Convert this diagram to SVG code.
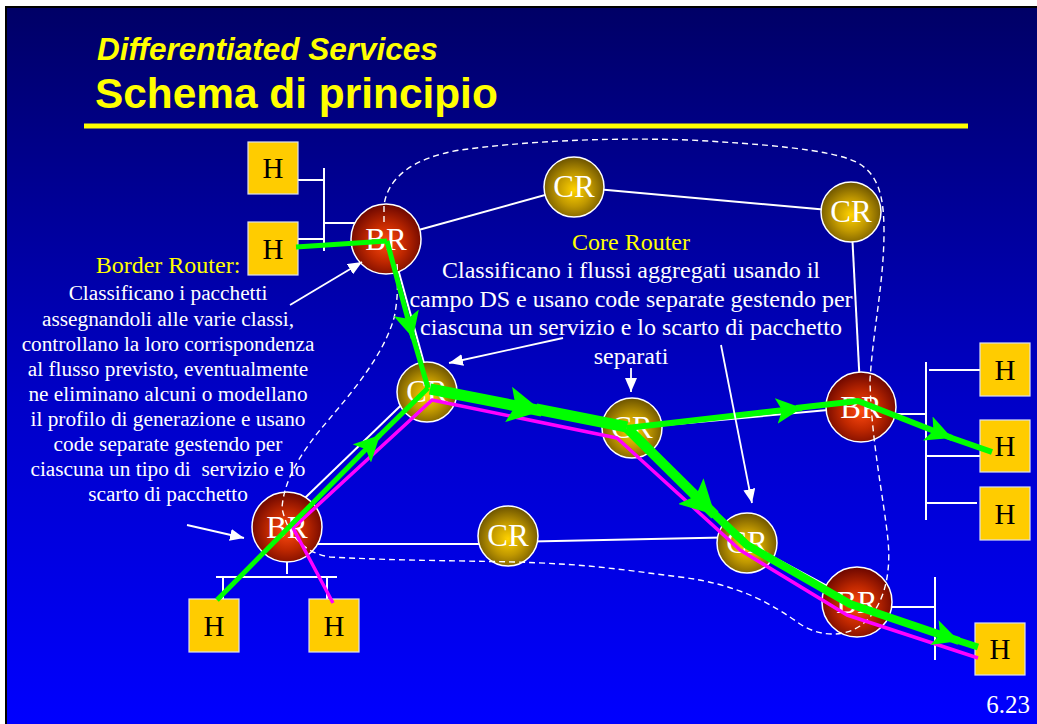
<svg xmlns="http://www.w3.org/2000/svg" width="1037" height="724" viewBox="0 0 1037 724">
<defs>
<linearGradient id="bg" x1="0" y1="0" x2="0" y2="1">
<stop offset="0" stop-color="#000066"/>
<stop offset="0.55" stop-color="#0000c8"/>
<stop offset="1" stop-color="#0000ff"/>
</linearGradient>
<radialGradient id="brg" cx="0.5" cy="0.55" r="0.55">
<stop offset="0" stop-color="#ff4a10"/>
<stop offset="0.5" stop-color="#c02800"/>
<stop offset="1" stop-color="#6a0600"/>
</radialGradient>
<radialGradient id="crg" cx="0.5" cy="0.55" r="0.55">
<stop offset="0" stop-color="#ffd200"/>
<stop offset="0.5" stop-color="#c09800"/>
<stop offset="1" stop-color="#6a5200"/>
</radialGradient>
<marker id="wa" markerUnits="userSpaceOnUse" markerWidth="14" markerHeight="12" refX="14" refY="6" orient="auto">
<path d="M0,0 L14,6 L0,12 z" fill="#ffffff"/>
</marker>
<marker id="ga" markerUnits="userSpaceOnUse" markerWidth="26" markerHeight="26" refX="26" refY="13" orient="auto">
<path d="M0,0 L26,13 L0,26 L6,13 z" fill="#00ff00"/>
</marker>
<marker id="gab" markerUnits="userSpaceOnUse" markerWidth="34" markerHeight="36" refX="34" refY="18" orient="auto">
<path d="M0,0 L34,18 L0,36 L7,18 z" fill="#00ff00"/>
</marker>
<style>
.lk{stroke:#ffffff;stroke-width:2;fill:none}
.gr{stroke:#00ff00;fill:none;stroke-linejoin:round}
.mg{stroke:#ff00ff;stroke-width:3.5;fill:none;stroke-linejoin:round}
.ds{stroke:#ffffff;stroke-width:1.4;fill:none;stroke-dasharray:6 4}
.an{stroke:#ffffff;stroke-width:1.8;fill:none;marker-end:url(#wa)}
.br{fill:url(#brg);stroke:#ffffff;stroke-width:1.5}
.cr{fill:url(#crg);stroke:#ffffff;stroke-width:1.5}
.hb{fill:#ffcc00;stroke:#dde0ee;stroke-width:1.2}
.rl{font-family:"Liberation Serif","Times New Roman",serif;font-size:31px;fill:#ffffff;text-anchor:middle}
.hl{font-family:"Liberation Serif","Times New Roman",serif;font-size:29px;fill:#000000;text-anchor:middle}
.tx{font-family:"Liberation Serif","Times New Roman",serif;fill:#ffffff;text-anchor:middle}
.yl{font-family:"Liberation Serif","Times New Roman",serif;fill:#ffff00;text-anchor:middle;font-size:24px}
</style>
</defs>
<rect x="0" y="0" width="1037" height="724" fill="#ffffff"/>
<rect x="6" y="7" width="1035" height="720" fill="url(#bg)" stroke="#000000" stroke-width="2"/>

<g id="title">
<text x="97" y="60" font-family="Liberation Sans,Arial,sans-serif" font-size="31.5" font-weight="bold" font-style="italic" fill="#ffff00">Differentiated Services</text>
<text x="95" y="108" font-family="Liberation Sans,Arial,sans-serif" font-size="42.4" font-weight="bold" fill="#ffff00">Schema di principio</text>
<rect x="84" y="123.5" width="884" height="5" fill="#ffff00"/>
</g>

<g id="links">
<path class="lk" d="M386,239 L574,187"/>
<path class="lk" d="M574,187 L851,212"/>
<path class="lk" d="M851,212 L861,407"/>
<path class="lk" d="M390,240 L432,392"/>
<path class="lk" d="M280,522 L420,387"/>
<path class="lk" d="M427,392 L632,428"/>
<path class="lk" d="M632,428 L861,407"/>
<path class="lk" d="M632,428 L747,543"/>
<path class="lk" d="M747,543 L857,602"/>
<path class="lk" d="M310,544 L490,544"/>
<path class="lk" d="M508,542 L747,537"/>
<path class="lk" d="M324,168 L324,251 M298,180 L324,180 M298,239 L324,239 M324,223 L370,223"/>
<path class="lk" d="M861,414 L926,414 M926,362 L926,520 M929,370 L980,370 M926,456 L980,456 M926,503 L977,503"/>
<path class="lk" d="M857,607 L935,607 M935,577 L935,660"/>
<path class="lk" d="M287,540 L287,574 M216,577 L337,577 M223,577 L223,599 M327,577 L327,599"/>
</g>

<g id="H1"><rect class="hb" x="248" y="142" width="50" height="52"/><text class="hl" x="273" y="178">H</text></g>
<g id="H2"><rect class="hb" x="248" y="222" width="50" height="53"/><text class="hl" x="273" y="259">H</text></g>
<g id="H3"><rect class="hb" x="980" y="343" width="50" height="53"/><text class="hl" x="1005" y="380">H</text></g>
<g id="H4"><rect class="hb" x="980" y="420" width="50" height="52"/><text class="hl" x="1005" y="456">H</text></g>
<g id="H5"><rect class="hb" x="980" y="487" width="50" height="53"/><text class="hl" x="1005" y="524">H</text></g>
<g id="H6"><rect class="hb" x="189" y="599" width="50" height="53"/><text class="hl" x="214" y="636">H</text></g>
<g id="H7"><rect class="hb" x="309" y="599" width="50" height="53"/><text class="hl" x="334" y="636">H</text></g>
<g id="H8"><rect class="hb" x="975" y="623" width="50" height="52"/><text class="hl" x="1000" y="659">H</text></g>

<g id="BR1"><circle class="br" cx="386" cy="239" r="35"/><text class="rl" x="386" y="250">BR</text></g>
<g id="CR1"><circle class="cr" cx="574" cy="187" r="30"/><text class="rl" x="574" y="197">CR</text></g>
<g id="CR2"><circle class="cr" cx="851" cy="212" r="30"/><text class="rl" x="851" y="222">CR</text></g>
<g id="CR3"><circle class="cr" cx="427" cy="392" r="30"/><text class="rl" x="427" y="402">CR</text></g>
<g id="CR4"><circle class="cr" cx="632" cy="428" r="30"/><text class="rl" x="632" y="438">CR</text></g>
<g id="BR2"><circle class="br" cx="861" cy="407" r="35"/><text class="rl" x="861" y="418">BR</text></g>
<g id="BR3"><circle class="br" cx="287" cy="527" r="35"/><text class="rl" x="287" y="538">BR</text></g>
<g id="CR5"><circle class="cr" cx="508" cy="536" r="30"/><text class="rl" x="508" y="546">CR</text></g>
<g id="CR6"><circle class="cr" cx="747" cy="543" r="30"/><text class="rl" x="747" y="553">CR</text></g>
<g id="BR4"><circle class="br" cx="857" cy="602" r="35"/><text class="rl" x="857" y="613">BR</text></g>

<g id="connectors">
<path class="ds" d="M384,222 L384,205 C388,178 412,158 460,150 C520,142 600,137 690,140 C760,144 830,149 856,162 C880,174 884,200 884,232 C884,282 873,330 870,380 C871,440 884,500 888,540 C892,582 880,612 860,626 C842,638 818,636 800,624 C772,604 738,584 680,577 C640,572 600,566 560,564 C500,560 420,562 330,557 C303,553 287,533 282,508 C284,480 300,455 320,430 C345,400 382,360 394,318 C398,300 398,282 397,262"/>
<path class="mg" d="M333,603 L293,528 L432,400 L617,438 L740,550 L847,615 L978,658"/>
<path class="gr" stroke-width="5" d="M296,247 L387,241"/>
<path class="gr" stroke-width="5" d="M387,241 L413,338" marker-end="url(#ga)"/>
<path class="gr" stroke-width="5" d="M411,330 L428,388"/>
<path class="gr" stroke-width="5" d="M217,600 L380,435" marker-end="url(#ga)"/>
<path class="gr" stroke-width="5" d="M376,439 L428,388"/>
<path class="gr" stroke-width="11" d="M430,389 L542,411" marker-end="url(#gab)"/>
<path class="gr" stroke-width="11" d="M536,409 L627,427"/>
<path class="gr" stroke-width="6" d="M627,428 L802,408" marker-end="url(#ga)"/>
<path class="gr" stroke-width="6" d="M796,408 L858,401 L952,438" marker-end="url(#ga)"/>
<path class="gr" stroke-width="6" d="M946,436 L992,452"/>
<path class="gr" stroke-width="10" d="M627,428 L715,515" marker-end="url(#gab)"/>
<path class="gr" stroke-width="8" d="M710,510 L747,545 L850,604 L959,641" marker-end="url(#ga)"/>
<path class="gr" stroke-width="7" d="M953,639 L978,647"/>
<path class="an" d="M290,305 L362,262"/>
<path class="an" d="M187,525 L244,538"/>
<path class="an" d="M563,338 L449,363"/>
<path class="an" d="M631,368 L631,392"/>
<path class="an" d="M721,345 L752,503"/>
</g>

<g id="border-router-text">
<text class="yl" x="168" y="273">Border Router:</text>
<text class="tx" font-size="21.3" x="168" y="300">Classificano i pacchetti</text>
<text class="tx" font-size="21.3" x="168" y="326">assegnandoli alle varie classi,</text>
<text class="tx" font-size="21.3" x="168" y="351">controllano la loro corrispondenza</text>
<text class="tx" font-size="21.3" x="168" y="376">al flusso previsto, eventualmente</text>
<text class="tx" font-size="21.3" x="168" y="401">ne eliminano alcuni o modellano</text>
<text class="tx" font-size="21.3" x="168" y="426">il profilo di generazione e usano</text>
<text class="tx" font-size="21.3" x="168" y="451">code separate gestendo per</text>
<text class="tx" font-size="21.3" x="168" y="476" xml:space="preserve">ciascuna un tipo di  servizio e lo</text>
<text class="tx" font-size="21.3" x="168" y="501">scarto di pacchetto</text>
</g>

<g id="core-router-text">
<text class="yl" x="631" y="250">Core Router</text>
<text class="tx" font-size="24" x="631" y="278">Classificano i flussi aggregati usando il</text>
<text class="tx" font-size="24" x="631" y="307">campo DS e usano code separate gestendo per</text>
<text class="tx" font-size="24" x="631" y="335">ciascuna un servizio e lo scarto di pacchetto</text>
<text class="tx" font-size="24" x="631" y="364">separati</text>
</g>

<text class="tx" font-size="25" x="1008" y="713">6.23</text>
</svg>
